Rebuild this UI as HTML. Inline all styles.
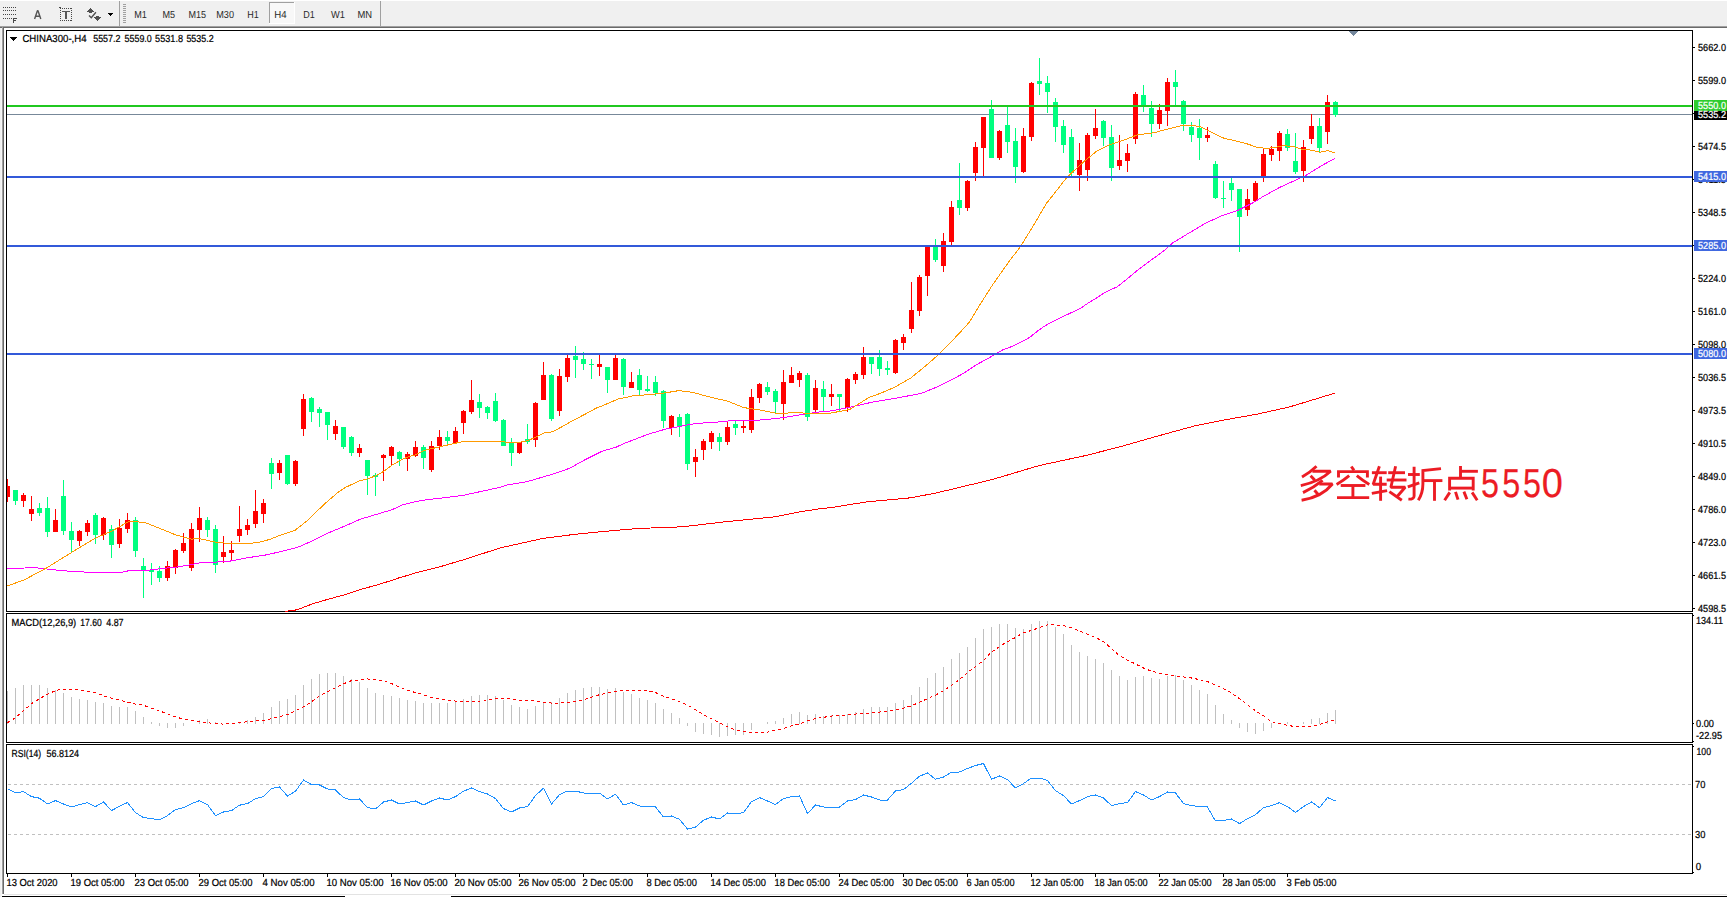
<!DOCTYPE html>
<html><head><meta charset="utf-8"><title>CHINA300 H4</title>
<style>html,body{margin:0;padding:0;background:#fff;overflow:hidden}svg{display:block}text{font-family:"Liberation Sans",sans-serif;white-space:pre;text-rendering:geometricPrecision}.b text{stroke:#000;stroke-width:0.22px}.w text{stroke:#fff;stroke-width:0.22px}</style>
</head><body>
<svg width="1727" height="897" viewBox="0 0 1727 897">
<g shape-rendering="crispEdges">
<rect x="0" y="0" width="1727" height="897" fill="#ffffff"/>
<rect x="0" y="1" width="1727" height="25" fill="#f0f0f0"/>
<rect x="0" y="26" width="1727" height="1" fill="#a0a0a0"/>
<rect x="0" y="27" width="1727" height="1" fill="#696969"/>
<rect x="0" y="28" width="1" height="869" fill="#f0f0f0"/>
<rect x="1" y="28" width="1" height="869" fill="#f6f6f6"/>
<rect x="2" y="27" width="1" height="867" fill="#a0a0a0"/>
<rect x="3" y="27" width="1" height="867" fill="#696969"/>
<rect x="4" y="894" width="1723" height="1" fill="#e3e3e3"/>
<rect x="2" y="896" width="343" height="1" fill="#000000"/>
<rect x="451" y="896" width="1276" height="1" fill="#000000"/>
<rect x="3" y="7" width="1" height="1" fill="#484848"/>
<rect x="5" y="7" width="1" height="1" fill="#484848"/>
<rect x="7" y="7" width="1" height="1" fill="#484848"/>
<rect x="9" y="7" width="1" height="1" fill="#484848"/>
<rect x="11" y="7" width="1" height="1" fill="#484848"/>
<rect x="13" y="7" width="1" height="1" fill="#484848"/>
<rect x="15" y="7" width="1" height="1" fill="#484848"/>
<rect x="3" y="10" width="1" height="1" fill="#484848"/>
<rect x="5" y="10" width="1" height="1" fill="#484848"/>
<rect x="7" y="10" width="1" height="1" fill="#484848"/>
<rect x="9" y="10" width="1" height="1" fill="#484848"/>
<rect x="11" y="10" width="1" height="1" fill="#484848"/>
<rect x="13" y="10" width="1" height="1" fill="#484848"/>
<rect x="15" y="10" width="1" height="1" fill="#484848"/>
<rect x="3" y="14" width="1" height="1" fill="#484848"/>
<rect x="5" y="14" width="1" height="1" fill="#484848"/>
<rect x="7" y="14" width="1" height="1" fill="#484848"/>
<rect x="9" y="14" width="1" height="1" fill="#484848"/>
<rect x="11" y="14" width="1" height="1" fill="#484848"/>
<rect x="13" y="14" width="1" height="1" fill="#484848"/>
<rect x="15" y="14" width="1" height="1" fill="#484848"/>
<rect x="3" y="18" width="1" height="1" fill="#484848"/>
<rect x="5" y="18" width="1" height="1" fill="#484848"/>
<rect x="7" y="18" width="1" height="1" fill="#484848"/>
<rect x="9" y="18" width="1" height="1" fill="#484848"/>
<rect x="11" y="18" width="1" height="1" fill="#484848"/>
<rect x="13" y="18" width="4" height="1" fill="#484848"/>
<rect x="13" y="18" width="1" height="5" fill="#484848"/>
<rect x="13" y="20" width="3" height="1" fill="#484848"/>
<rect x="60" y="8" width="1" height="1" fill="#484848"/>
<rect x="60" y="20" width="1" height="1" fill="#484848"/>
<rect x="62" y="8" width="1" height="1" fill="#484848"/>
<rect x="62" y="20" width="1" height="1" fill="#484848"/>
<rect x="64" y="8" width="1" height="1" fill="#484848"/>
<rect x="64" y="20" width="1" height="1" fill="#484848"/>
<rect x="66" y="8" width="1" height="1" fill="#484848"/>
<rect x="66" y="20" width="1" height="1" fill="#484848"/>
<rect x="68" y="8" width="1" height="1" fill="#484848"/>
<rect x="68" y="20" width="1" height="1" fill="#484848"/>
<rect x="70" y="8" width="1" height="1" fill="#484848"/>
<rect x="70" y="20" width="1" height="1" fill="#484848"/>
<rect x="60" y="8" width="1" height="1" fill="#484848"/>
<rect x="71" y="8" width="1" height="1" fill="#484848"/>
<rect x="60" y="10" width="1" height="1" fill="#484848"/>
<rect x="71" y="10" width="1" height="1" fill="#484848"/>
<rect x="60" y="12" width="1" height="1" fill="#484848"/>
<rect x="71" y="12" width="1" height="1" fill="#484848"/>
<rect x="60" y="14" width="1" height="1" fill="#484848"/>
<rect x="71" y="14" width="1" height="1" fill="#484848"/>
<rect x="60" y="16" width="1" height="1" fill="#484848"/>
<rect x="71" y="16" width="1" height="1" fill="#484848"/>
<rect x="60" y="18" width="1" height="1" fill="#484848"/>
<rect x="71" y="18" width="1" height="1" fill="#484848"/>
<rect x="60" y="20" width="1" height="1" fill="#484848"/>
<rect x="71" y="20" width="1" height="1" fill="#484848"/>
<rect x="59" y="7" width="2" height="1" fill="#484848"/>
<rect x="62" y="11" width="8" height="1" fill="#585858"/>
<rect x="65" y="11" width="2" height="8" fill="#585858"/>
<rect x="108" y="13" width="5" height="1" fill="#000"/>
<rect x="109" y="14" width="3" height="1" fill="#000"/>
<rect x="110" y="15" width="1" height="1" fill="#000"/>
<rect x="119" y="1" width="1" height="25" fill="#a0a0a0"/>
<rect x="123" y="4" width="3" height="1" fill="#a0a0a0"/>
<rect x="123" y="6" width="3" height="1" fill="#a0a0a0"/>
<rect x="123" y="8" width="3" height="1" fill="#a0a0a0"/>
<rect x="123" y="10" width="3" height="1" fill="#a0a0a0"/>
<rect x="123" y="12" width="3" height="1" fill="#a0a0a0"/>
<rect x="123" y="14" width="3" height="1" fill="#a0a0a0"/>
<rect x="123" y="16" width="3" height="1" fill="#a0a0a0"/>
<rect x="123" y="18" width="3" height="1" fill="#a0a0a0"/>
<rect x="123" y="20" width="3" height="1" fill="#a0a0a0"/>
<rect x="123" y="22" width="3" height="1" fill="#a0a0a0"/>
<rect x="380" y="1" width="1" height="25" fill="#a0a0a0"/>
<rect x="269" y="2" width="26" height="22" fill="#f8f8f8"/>
<rect x="269" y="2" width="26" height="1" fill="#a0a0a0"/>
<rect x="269" y="2" width="1" height="22" fill="#a0a0a0"/>
<rect x="294" y="2" width="1" height="22" fill="#ffffff"/>
<rect x="269" y="23" width="26" height="1" fill="#ffffff"/>
</g>
<path d="M34.6 19 L37.4 10.7 H38 L40.8 19 M35.8 16.2 H39.6" fill="none" stroke="#555" stroke-width="1.4" stroke-linejoin="bevel"/>
<g shape-rendering="crispEdges">
<rect x="90" y="8" width="1" height="1" fill="#505050"/>
<rect x="89" y="9" width="3" height="1" fill="#505050"/>
<rect x="88" y="10" width="5" height="1" fill="#505050"/>
<rect x="87" y="11" width="7" height="1" fill="#505050"/>
<rect x="89" y="12" width="3" height="1" fill="#505050"/>
<rect x="96" y="16" width="3" height="1" fill="#505050"/>
<rect x="94" y="17" width="7" height="1" fill="#505050"/>
<rect x="95" y="18" width="5" height="1" fill="#505050"/>
<rect x="96" y="19" width="3" height="1" fill="#505050"/>
<rect x="97" y="20" width="1" height="1" fill="#505050"/>
</g>
<path d="M89 15.4 L91.3 17.7 L95.9 12.2" fill="none" stroke="#505050" stroke-width="1.4"/>
<text x="134.3" y="18" font-size="10.2" fill="#2a2a2a" textLength="12.6" lengthAdjust="spacingAndGlyphs" >M1</text>
<text x="162.5" y="18" font-size="10.2" fill="#2a2a2a" textLength="12.6" lengthAdjust="spacingAndGlyphs" >M5</text>
<text x="188.4" y="18" font-size="10.2" fill="#2a2a2a" textLength="17.6" lengthAdjust="spacingAndGlyphs" >M15</text>
<text x="216.2" y="18" font-size="10.2" fill="#2a2a2a" textLength="17.8" lengthAdjust="spacingAndGlyphs" >M30</text>
<text x="247.2" y="18" font-size="10.2" fill="#2a2a2a" textLength="11.5" lengthAdjust="spacingAndGlyphs" >H1</text>
<text x="274.2" y="18" font-size="10.2" fill="#2a2a2a" textLength="12.3" lengthAdjust="spacingAndGlyphs" >H4</text>
<text x="303.2" y="18" font-size="10.2" fill="#2a2a2a" textLength="11.5" lengthAdjust="spacingAndGlyphs" >D1</text>
<text x="331.0" y="18" font-size="10.2" fill="#2a2a2a" textLength="13.9" lengthAdjust="spacingAndGlyphs" >W1</text>
<text x="357.4" y="18" font-size="10.2" fill="#2a2a2a" textLength="14.6" lengthAdjust="spacingAndGlyphs" >MN</text>
<g shape-rendering="crispEdges">
<rect x="6" y="30" width="1687" height="1" fill="#000"/>
<rect x="6" y="611" width="1687" height="1" fill="#000"/>
<rect x="6" y="30" width="1" height="582" fill="#000"/>
<rect x="1692" y="30" width="1" height="582" fill="#000"/>
<rect x="6" y="613" width="1687" height="1" fill="#000"/>
<rect x="6" y="742" width="1687" height="1" fill="#000"/>
<rect x="6" y="613" width="1" height="130" fill="#000"/>
<rect x="1692" y="613" width="1" height="130" fill="#000"/>
<rect x="6" y="744" width="1687" height="1" fill="#000"/>
<rect x="6" y="873" width="1687" height="1" fill="#000"/>
<rect x="6" y="744" width="1" height="130" fill="#000"/>
<rect x="1692" y="744" width="1" height="130" fill="#000"/>
<rect x="7" y="114" width="1685" height="1" fill="#778899"/>
<rect x="7" y="479" width="1" height="23" fill="#ff0000"/>
<rect x="7" y="486" width="3" height="11" fill="#ff0000"/>
<rect x="15" y="490" width="1" height="15" fill="#00ff7f"/>
<rect x="13" y="490" width="5" height="11" fill="#00ff7f"/>
<rect x="23" y="493" width="1" height="14" fill="#ff0000"/>
<rect x="21" y="495" width="5" height="6" fill="#ff0000"/>
<rect x="31" y="496" width="1" height="25" fill="#ff0000"/>
<rect x="29" y="509" width="5" height="5" fill="#ff0000"/>
<rect x="39" y="503" width="1" height="13" fill="#00ff7f"/>
<rect x="37" y="508" width="5" height="5" fill="#00ff7f"/>
<rect x="47" y="497" width="1" height="40" fill="#00ff7f"/>
<rect x="45" y="508" width="5" height="24" fill="#00ff7f"/>
<rect x="55" y="509" width="1" height="23" fill="#ff0000"/>
<rect x="53" y="520" width="5" height="12" fill="#ff0000"/>
<rect x="63" y="480" width="1" height="55" fill="#00ff7f"/>
<rect x="61" y="496" width="5" height="35" fill="#00ff7f"/>
<rect x="71" y="522" width="1" height="30" fill="#00ff7f"/>
<rect x="69" y="531" width="5" height="9" fill="#00ff7f"/>
<rect x="79" y="530" width="1" height="16" fill="#ff0000"/>
<rect x="77" y="531" width="5" height="10" fill="#ff0000"/>
<rect x="87" y="520" width="1" height="16" fill="#ff0000"/>
<rect x="85" y="523" width="5" height="9" fill="#ff0000"/>
<rect x="95" y="513" width="1" height="31" fill="#00ff7f"/>
<rect x="93" y="515" width="5" height="20" fill="#00ff7f"/>
<rect x="103" y="517" width="1" height="23" fill="#ff0000"/>
<rect x="101" y="518" width="5" height="17" fill="#ff0000"/>
<rect x="111" y="525" width="1" height="33" fill="#00ff7f"/>
<rect x="109" y="529" width="5" height="16" fill="#00ff7f"/>
<rect x="119" y="519" width="1" height="29" fill="#ff0000"/>
<rect x="117" y="528" width="5" height="16" fill="#ff0000"/>
<rect x="127" y="513" width="1" height="20" fill="#ff0000"/>
<rect x="125" y="520" width="5" height="9" fill="#ff0000"/>
<rect x="135" y="517" width="1" height="40" fill="#00ff7f"/>
<rect x="133" y="520" width="5" height="31" fill="#00ff7f"/>
<rect x="143" y="558" width="1" height="40" fill="#00ff7f"/>
<rect x="141" y="566" width="5" height="5" fill="#00ff7f"/>
<rect x="151" y="563" width="1" height="22" fill="#00ff7f"/>
<rect x="149" y="570" width="5" height="2" fill="#00ff7f"/>
<rect x="159" y="566" width="1" height="16" fill="#00ff7f"/>
<rect x="157" y="571" width="5" height="7" fill="#00ff7f"/>
<rect x="167" y="561" width="1" height="20" fill="#ff0000"/>
<rect x="165" y="566" width="5" height="12" fill="#ff0000"/>
<rect x="175" y="549" width="1" height="25" fill="#ff0000"/>
<rect x="173" y="550" width="5" height="18" fill="#ff0000"/>
<rect x="183" y="533" width="1" height="20" fill="#ff0000"/>
<rect x="181" y="543" width="5" height="8" fill="#ff0000"/>
<rect x="191" y="523" width="1" height="48" fill="#ff0000"/>
<rect x="189" y="529" width="5" height="39" fill="#ff0000"/>
<rect x="199" y="507" width="1" height="35" fill="#ff0000"/>
<rect x="197" y="518" width="5" height="12" fill="#ff0000"/>
<rect x="207" y="517" width="1" height="20" fill="#00ff7f"/>
<rect x="205" y="520" width="5" height="10" fill="#00ff7f"/>
<rect x="215" y="525" width="1" height="48" fill="#00ff7f"/>
<rect x="213" y="529" width="5" height="36" fill="#00ff7f"/>
<rect x="223" y="536" width="1" height="27" fill="#ff0000"/>
<rect x="221" y="552" width="5" height="5" fill="#ff0000"/>
<rect x="231" y="541" width="1" height="20" fill="#ff0000"/>
<rect x="229" y="550" width="5" height="3" fill="#ff0000"/>
<rect x="239" y="506" width="1" height="36" fill="#ff0000"/>
<rect x="237" y="529" width="5" height="7" fill="#ff0000"/>
<rect x="247" y="519" width="1" height="16" fill="#ff0000"/>
<rect x="245" y="525" width="5" height="5" fill="#ff0000"/>
<rect x="255" y="490" width="1" height="38" fill="#ff0000"/>
<rect x="253" y="511" width="5" height="13" fill="#ff0000"/>
<rect x="263" y="499" width="1" height="24" fill="#ff0000"/>
<rect x="261" y="503" width="5" height="11" fill="#ff0000"/>
<rect x="271" y="458" width="1" height="31" fill="#00ff7f"/>
<rect x="269" y="463" width="5" height="11" fill="#00ff7f"/>
<rect x="279" y="460" width="1" height="20" fill="#ff0000"/>
<rect x="277" y="463" width="5" height="10" fill="#ff0000"/>
<rect x="287" y="455" width="1" height="30" fill="#00ff7f"/>
<rect x="285" y="455" width="5" height="29" fill="#00ff7f"/>
<rect x="295" y="460" width="1" height="26" fill="#ff0000"/>
<rect x="293" y="461" width="5" height="23" fill="#ff0000"/>
<rect x="303" y="394" width="1" height="42" fill="#ff0000"/>
<rect x="301" y="399" width="5" height="30" fill="#ff0000"/>
<rect x="311" y="397" width="1" height="25" fill="#00ff7f"/>
<rect x="309" y="398" width="5" height="14" fill="#00ff7f"/>
<rect x="319" y="407" width="1" height="20" fill="#00ff7f"/>
<rect x="317" y="409" width="5" height="4" fill="#00ff7f"/>
<rect x="327" y="412" width="1" height="28" fill="#00ff7f"/>
<rect x="325" y="412" width="5" height="13" fill="#00ff7f"/>
<rect x="335" y="420" width="1" height="20" fill="#ff0000"/>
<rect x="333" y="426" width="5" height="8" fill="#ff0000"/>
<rect x="343" y="427" width="1" height="22" fill="#00ff7f"/>
<rect x="341" y="427" width="5" height="20" fill="#00ff7f"/>
<rect x="351" y="436" width="1" height="20" fill="#00ff7f"/>
<rect x="349" y="437" width="5" height="16" fill="#00ff7f"/>
<rect x="359" y="444" width="1" height="13" fill="#ff0000"/>
<rect x="357" y="448" width="5" height="5" fill="#ff0000"/>
<rect x="367" y="460" width="1" height="35" fill="#00ff7f"/>
<rect x="365" y="460" width="5" height="16" fill="#00ff7f"/>
<rect x="375" y="473" width="1" height="23" fill="#00ff7f"/>
<rect x="373" y="475" width="5" height="2" fill="#00ff7f"/>
<rect x="383" y="454" width="1" height="27" fill="#ff0000"/>
<rect x="381" y="455" width="5" height="3" fill="#ff0000"/>
<rect x="391" y="446" width="1" height="19" fill="#ff0000"/>
<rect x="389" y="447" width="5" height="9" fill="#ff0000"/>
<rect x="399" y="451" width="1" height="15" fill="#00ff7f"/>
<rect x="397" y="452" width="5" height="7" fill="#00ff7f"/>
<rect x="407" y="452" width="1" height="19" fill="#ff0000"/>
<rect x="405" y="454" width="5" height="5" fill="#ff0000"/>
<rect x="415" y="441" width="1" height="16" fill="#ff0000"/>
<rect x="413" y="447" width="5" height="9" fill="#ff0000"/>
<rect x="423" y="445" width="1" height="24" fill="#00ff7f"/>
<rect x="421" y="447" width="5" height="11" fill="#00ff7f"/>
<rect x="431" y="441" width="1" height="31" fill="#ff0000"/>
<rect x="429" y="446" width="5" height="24" fill="#ff0000"/>
<rect x="439" y="430" width="1" height="20" fill="#ff0000"/>
<rect x="437" y="437" width="5" height="9" fill="#ff0000"/>
<rect x="447" y="431" width="1" height="13" fill="#00ff7f"/>
<rect x="445" y="437" width="5" height="4" fill="#00ff7f"/>
<rect x="455" y="427" width="1" height="16" fill="#ff0000"/>
<rect x="453" y="431" width="5" height="12" fill="#ff0000"/>
<rect x="463" y="410" width="1" height="24" fill="#ff0000"/>
<rect x="461" y="411" width="5" height="12" fill="#ff0000"/>
<rect x="471" y="380" width="1" height="34" fill="#ff0000"/>
<rect x="469" y="400" width="5" height="12" fill="#ff0000"/>
<rect x="479" y="394" width="1" height="24" fill="#00ff7f"/>
<rect x="477" y="402" width="5" height="6" fill="#00ff7f"/>
<rect x="487" y="406" width="1" height="13" fill="#00ff7f"/>
<rect x="485" y="407" width="5" height="6" fill="#00ff7f"/>
<rect x="495" y="393" width="1" height="29" fill="#00ff7f"/>
<rect x="493" y="401" width="5" height="20" fill="#00ff7f"/>
<rect x="503" y="419" width="1" height="27" fill="#00ff7f"/>
<rect x="501" y="420" width="5" height="26" fill="#00ff7f"/>
<rect x="511" y="438" width="1" height="28" fill="#00ff7f"/>
<rect x="509" y="442" width="5" height="11" fill="#00ff7f"/>
<rect x="519" y="442" width="1" height="12" fill="#ff0000"/>
<rect x="517" y="442" width="5" height="11" fill="#ff0000"/>
<rect x="527" y="424" width="1" height="20" fill="#00ff7f"/>
<rect x="525" y="439" width="5" height="3" fill="#00ff7f"/>
<rect x="535" y="402" width="1" height="45" fill="#ff0000"/>
<rect x="533" y="403" width="5" height="37" fill="#ff0000"/>
<rect x="543" y="362" width="1" height="38" fill="#ff0000"/>
<rect x="541" y="375" width="5" height="25" fill="#ff0000"/>
<rect x="551" y="374" width="1" height="47" fill="#00ff7f"/>
<rect x="549" y="375" width="5" height="44" fill="#00ff7f"/>
<rect x="559" y="369" width="1" height="47" fill="#ff0000"/>
<rect x="557" y="376" width="5" height="35" fill="#ff0000"/>
<rect x="567" y="355" width="1" height="27" fill="#ff0000"/>
<rect x="565" y="358" width="5" height="19" fill="#ff0000"/>
<rect x="575" y="346" width="1" height="32" fill="#00ff7f"/>
<rect x="573" y="356" width="5" height="4" fill="#00ff7f"/>
<rect x="583" y="352" width="1" height="18" fill="#00ff7f"/>
<rect x="581" y="359" width="5" height="5" fill="#00ff7f"/>
<rect x="591" y="359" width="1" height="20" fill="#00ff7f"/>
<rect x="589" y="364" width="5" height="1" fill="#00ff7f"/>
<rect x="599" y="355" width="1" height="21" fill="#ff0000"/>
<rect x="597" y="364" width="5" height="3" fill="#ff0000"/>
<rect x="607" y="367" width="1" height="26" fill="#00ff7f"/>
<rect x="605" y="367" width="5" height="13" fill="#00ff7f"/>
<rect x="615" y="355" width="1" height="25" fill="#ff0000"/>
<rect x="613" y="358" width="5" height="22" fill="#ff0000"/>
<rect x="623" y="358" width="1" height="37" fill="#00ff7f"/>
<rect x="621" y="359" width="5" height="28" fill="#00ff7f"/>
<rect x="631" y="372" width="1" height="16" fill="#ff0000"/>
<rect x="629" y="382" width="5" height="6" fill="#ff0000"/>
<rect x="639" y="369" width="1" height="26" fill="#00ff7f"/>
<rect x="637" y="375" width="5" height="15" fill="#00ff7f"/>
<rect x="647" y="376" width="1" height="16" fill="#00ff7f"/>
<rect x="645" y="389" width="5" height="2" fill="#00ff7f"/>
<rect x="655" y="376" width="1" height="20" fill="#00ff7f"/>
<rect x="653" y="382" width="5" height="11" fill="#00ff7f"/>
<rect x="663" y="390" width="1" height="38" fill="#00ff7f"/>
<rect x="661" y="391" width="5" height="30" fill="#00ff7f"/>
<rect x="671" y="415" width="1" height="20" fill="#ff0000"/>
<rect x="669" y="416" width="5" height="12" fill="#ff0000"/>
<rect x="679" y="414" width="1" height="23" fill="#00ff7f"/>
<rect x="677" y="417" width="5" height="9" fill="#00ff7f"/>
<rect x="687" y="413" width="1" height="57" fill="#00ff7f"/>
<rect x="685" y="414" width="5" height="50" fill="#00ff7f"/>
<rect x="695" y="449" width="1" height="28" fill="#ff0000"/>
<rect x="693" y="457" width="5" height="5" fill="#ff0000"/>
<rect x="703" y="439" width="1" height="21" fill="#ff0000"/>
<rect x="701" y="441" width="5" height="9" fill="#ff0000"/>
<rect x="711" y="431" width="1" height="18" fill="#ff0000"/>
<rect x="709" y="433" width="5" height="9" fill="#ff0000"/>
<rect x="719" y="433" width="1" height="18" fill="#00ff7f"/>
<rect x="717" y="437" width="5" height="5" fill="#00ff7f"/>
<rect x="727" y="421" width="1" height="24" fill="#ff0000"/>
<rect x="725" y="427" width="5" height="15" fill="#ff0000"/>
<rect x="735" y="421" width="1" height="14" fill="#00ff7f"/>
<rect x="733" y="424" width="5" height="4" fill="#00ff7f"/>
<rect x="743" y="421" width="1" height="12" fill="#ff0000"/>
<rect x="741" y="426" width="5" height="2" fill="#ff0000"/>
<rect x="751" y="389" width="1" height="44" fill="#ff0000"/>
<rect x="749" y="397" width="5" height="33" fill="#ff0000"/>
<rect x="759" y="383" width="1" height="20" fill="#ff0000"/>
<rect x="757" y="384" width="5" height="14" fill="#ff0000"/>
<rect x="767" y="382" width="1" height="13" fill="#00ff7f"/>
<rect x="765" y="387" width="5" height="5" fill="#00ff7f"/>
<rect x="775" y="389" width="1" height="25" fill="#00ff7f"/>
<rect x="773" y="391" width="5" height="11" fill="#00ff7f"/>
<rect x="783" y="370" width="1" height="50" fill="#ff0000"/>
<rect x="781" y="382" width="5" height="22" fill="#ff0000"/>
<rect x="791" y="367" width="1" height="16" fill="#ff0000"/>
<rect x="789" y="375" width="5" height="8" fill="#ff0000"/>
<rect x="799" y="371" width="1" height="16" fill="#ff0000"/>
<rect x="797" y="373" width="5" height="7" fill="#ff0000"/>
<rect x="807" y="373" width="1" height="48" fill="#00ff7f"/>
<rect x="805" y="375" width="5" height="42" fill="#00ff7f"/>
<rect x="815" y="380" width="1" height="32" fill="#ff0000"/>
<rect x="813" y="388" width="5" height="22" fill="#ff0000"/>
<rect x="823" y="381" width="1" height="30" fill="#00ff7f"/>
<rect x="821" y="389" width="5" height="8" fill="#00ff7f"/>
<rect x="831" y="384" width="1" height="22" fill="#ff0000"/>
<rect x="829" y="394" width="5" height="3" fill="#ff0000"/>
<rect x="839" y="394" width="1" height="17" fill="#00ff7f"/>
<rect x="837" y="394" width="5" height="3" fill="#00ff7f"/>
<rect x="847" y="378" width="1" height="34" fill="#ff0000"/>
<rect x="845" y="379" width="5" height="29" fill="#ff0000"/>
<rect x="855" y="372" width="1" height="12" fill="#ff0000"/>
<rect x="853" y="374" width="5" height="6" fill="#ff0000"/>
<rect x="863" y="347" width="1" height="32" fill="#ff0000"/>
<rect x="861" y="357" width="5" height="18" fill="#ff0000"/>
<rect x="871" y="357" width="1" height="17" fill="#00ff7f"/>
<rect x="869" y="357" width="5" height="7" fill="#00ff7f"/>
<rect x="879" y="350" width="1" height="26" fill="#00ff7f"/>
<rect x="877" y="357" width="5" height="12" fill="#00ff7f"/>
<rect x="887" y="361" width="1" height="14" fill="#00ff7f"/>
<rect x="885" y="368" width="5" height="2" fill="#00ff7f"/>
<rect x="895" y="339" width="1" height="35" fill="#ff0000"/>
<rect x="893" y="340" width="5" height="33" fill="#ff0000"/>
<rect x="903" y="334" width="1" height="16" fill="#ff0000"/>
<rect x="901" y="337" width="5" height="6" fill="#ff0000"/>
<rect x="911" y="282" width="1" height="51" fill="#ff0000"/>
<rect x="909" y="310" width="5" height="19" fill="#ff0000"/>
<rect x="919" y="275" width="1" height="41" fill="#ff0000"/>
<rect x="917" y="277" width="5" height="34" fill="#ff0000"/>
<rect x="927" y="245" width="1" height="51" fill="#ff0000"/>
<rect x="925" y="245" width="5" height="31" fill="#ff0000"/>
<rect x="935" y="239" width="1" height="23" fill="#00ff7f"/>
<rect x="933" y="246" width="5" height="14" fill="#00ff7f"/>
<rect x="943" y="233" width="1" height="39" fill="#ff0000"/>
<rect x="941" y="241" width="5" height="25" fill="#ff0000"/>
<rect x="951" y="201" width="1" height="44" fill="#ff0000"/>
<rect x="949" y="207" width="5" height="35" fill="#ff0000"/>
<rect x="959" y="163" width="1" height="52" fill="#00ff7f"/>
<rect x="957" y="200" width="5" height="8" fill="#00ff7f"/>
<rect x="967" y="180" width="1" height="31" fill="#ff0000"/>
<rect x="965" y="181" width="5" height="27" fill="#ff0000"/>
<rect x="975" y="142" width="1" height="39" fill="#ff0000"/>
<rect x="973" y="147" width="5" height="26" fill="#ff0000"/>
<rect x="983" y="117" width="1" height="59" fill="#ff0000"/>
<rect x="981" y="117" width="5" height="31" fill="#ff0000"/>
<rect x="991" y="100" width="1" height="58" fill="#00ff7f"/>
<rect x="989" y="109" width="5" height="49" fill="#00ff7f"/>
<rect x="999" y="130" width="1" height="30" fill="#ff0000"/>
<rect x="997" y="131" width="5" height="27" fill="#ff0000"/>
<rect x="1007" y="107" width="1" height="46" fill="#00ff7f"/>
<rect x="1005" y="125" width="5" height="17" fill="#00ff7f"/>
<rect x="1015" y="128" width="1" height="55" fill="#00ff7f"/>
<rect x="1013" y="141" width="5" height="26" fill="#00ff7f"/>
<rect x="1023" y="128" width="1" height="45" fill="#ff0000"/>
<rect x="1021" y="136" width="5" height="36" fill="#ff0000"/>
<rect x="1031" y="82" width="1" height="59" fill="#ff0000"/>
<rect x="1029" y="83" width="5" height="54" fill="#ff0000"/>
<rect x="1039" y="58" width="1" height="37" fill="#00ff7f"/>
<rect x="1037" y="81" width="5" height="3" fill="#00ff7f"/>
<rect x="1047" y="76" width="1" height="37" fill="#00ff7f"/>
<rect x="1045" y="83" width="5" height="9" fill="#00ff7f"/>
<rect x="1055" y="98" width="1" height="44" fill="#00ff7f"/>
<rect x="1053" y="102" width="5" height="25" fill="#00ff7f"/>
<rect x="1063" y="120" width="1" height="33" fill="#00ff7f"/>
<rect x="1061" y="126" width="5" height="19" fill="#00ff7f"/>
<rect x="1071" y="129" width="1" height="47" fill="#00ff7f"/>
<rect x="1069" y="137" width="5" height="36" fill="#00ff7f"/>
<rect x="1079" y="143" width="1" height="48" fill="#ff0000"/>
<rect x="1077" y="160" width="5" height="15" fill="#ff0000"/>
<rect x="1087" y="133" width="1" height="48" fill="#ff0000"/>
<rect x="1085" y="135" width="5" height="35" fill="#ff0000"/>
<rect x="1095" y="109" width="1" height="30" fill="#ff0000"/>
<rect x="1093" y="128" width="5" height="8" fill="#ff0000"/>
<rect x="1103" y="120" width="1" height="26" fill="#00ff7f"/>
<rect x="1101" y="121" width="5" height="17" fill="#00ff7f"/>
<rect x="1111" y="125" width="1" height="56" fill="#00ff7f"/>
<rect x="1109" y="137" width="5" height="31" fill="#00ff7f"/>
<rect x="1119" y="135" width="1" height="35" fill="#ff0000"/>
<rect x="1117" y="160" width="5" height="6" fill="#ff0000"/>
<rect x="1127" y="144" width="1" height="28" fill="#ff0000"/>
<rect x="1125" y="153" width="5" height="8" fill="#ff0000"/>
<rect x="1135" y="92" width="1" height="52" fill="#ff0000"/>
<rect x="1133" y="94" width="5" height="45" fill="#ff0000"/>
<rect x="1143" y="85" width="1" height="27" fill="#00ff7f"/>
<rect x="1141" y="95" width="5" height="12" fill="#00ff7f"/>
<rect x="1151" y="101" width="1" height="36" fill="#00ff7f"/>
<rect x="1149" y="108" width="5" height="16" fill="#00ff7f"/>
<rect x="1159" y="104" width="1" height="25" fill="#ff0000"/>
<rect x="1157" y="110" width="5" height="14" fill="#ff0000"/>
<rect x="1167" y="78" width="1" height="48" fill="#ff0000"/>
<rect x="1165" y="82" width="5" height="29" fill="#ff0000"/>
<rect x="1175" y="70" width="1" height="36" fill="#00ff7f"/>
<rect x="1173" y="82" width="5" height="5" fill="#00ff7f"/>
<rect x="1183" y="100" width="1" height="31" fill="#00ff7f"/>
<rect x="1181" y="101" width="5" height="23" fill="#00ff7f"/>
<rect x="1191" y="122" width="1" height="20" fill="#00ff7f"/>
<rect x="1189" y="127" width="5" height="8" fill="#00ff7f"/>
<rect x="1199" y="119" width="1" height="41" fill="#00ff7f"/>
<rect x="1197" y="128" width="5" height="10" fill="#00ff7f"/>
<rect x="1207" y="127" width="1" height="15" fill="#ff0000"/>
<rect x="1205" y="135" width="5" height="3" fill="#ff0000"/>
<rect x="1215" y="161" width="1" height="38" fill="#00ff7f"/>
<rect x="1213" y="164" width="5" height="34" fill="#00ff7f"/>
<rect x="1223" y="181" width="1" height="27" fill="#00ff7f"/>
<rect x="1221" y="198" width="5" height="1" fill="#00ff7f"/>
<rect x="1231" y="178" width="1" height="23" fill="#00ff7f"/>
<rect x="1229" y="183" width="5" height="7" fill="#00ff7f"/>
<rect x="1239" y="189" width="1" height="63" fill="#00ff7f"/>
<rect x="1237" y="189" width="5" height="28" fill="#00ff7f"/>
<rect x="1247" y="189" width="1" height="27" fill="#ff0000"/>
<rect x="1245" y="199" width="5" height="11" fill="#ff0000"/>
<rect x="1255" y="181" width="1" height="20" fill="#ff0000"/>
<rect x="1253" y="183" width="5" height="18" fill="#ff0000"/>
<rect x="1263" y="149" width="1" height="33" fill="#ff0000"/>
<rect x="1261" y="154" width="5" height="23" fill="#ff0000"/>
<rect x="1271" y="146" width="1" height="15" fill="#ff0000"/>
<rect x="1269" y="149" width="5" height="6" fill="#ff0000"/>
<rect x="1279" y="131" width="1" height="30" fill="#ff0000"/>
<rect x="1277" y="133" width="5" height="18" fill="#ff0000"/>
<rect x="1287" y="129" width="1" height="22" fill="#00ff7f"/>
<rect x="1285" y="134" width="5" height="14" fill="#00ff7f"/>
<rect x="1295" y="133" width="1" height="41" fill="#00ff7f"/>
<rect x="1293" y="161" width="5" height="11" fill="#00ff7f"/>
<rect x="1303" y="140" width="1" height="42" fill="#ff0000"/>
<rect x="1301" y="147" width="5" height="24" fill="#ff0000"/>
<rect x="1311" y="114" width="1" height="30" fill="#ff0000"/>
<rect x="1309" y="126" width="5" height="13" fill="#ff0000"/>
<rect x="1319" y="118" width="1" height="34" fill="#00ff7f"/>
<rect x="1317" y="126" width="5" height="22" fill="#00ff7f"/>
<rect x="1327" y="95" width="1" height="49" fill="#ff0000"/>
<rect x="1325" y="102" width="5" height="30" fill="#ff0000"/>
<rect x="1335" y="101" width="1" height="16" fill="#00ff7f"/>
<rect x="1333" y="102" width="5" height="13" fill="#00ff7f"/>
<rect x="7" y="691" width="1" height="33" fill="#c0c0c0"/>
<rect x="15" y="688" width="1" height="36" fill="#c0c0c0"/>
<rect x="23" y="685" width="1" height="39" fill="#c0c0c0"/>
<rect x="31" y="685" width="1" height="39" fill="#c0c0c0"/>
<rect x="39" y="685" width="1" height="39" fill="#c0c0c0"/>
<rect x="47" y="688" width="1" height="36" fill="#c0c0c0"/>
<rect x="55" y="690" width="1" height="34" fill="#c0c0c0"/>
<rect x="63" y="693" width="1" height="31" fill="#c0c0c0"/>
<rect x="71" y="697" width="1" height="27" fill="#c0c0c0"/>
<rect x="79" y="699" width="1" height="25" fill="#c0c0c0"/>
<rect x="87" y="700" width="1" height="24" fill="#c0c0c0"/>
<rect x="95" y="702" width="1" height="22" fill="#c0c0c0"/>
<rect x="103" y="703" width="1" height="21" fill="#c0c0c0"/>
<rect x="111" y="706" width="1" height="18" fill="#c0c0c0"/>
<rect x="119" y="707" width="1" height="17" fill="#c0c0c0"/>
<rect x="127" y="707" width="1" height="17" fill="#c0c0c0"/>
<rect x="135" y="711" width="1" height="13" fill="#c0c0c0"/>
<rect x="143" y="717" width="1" height="7" fill="#c0c0c0"/>
<rect x="151" y="722" width="1" height="2" fill="#c0c0c0"/>
<rect x="159" y="723" width="1" height="3" fill="#c0c0c0"/>
<rect x="167" y="723" width="1" height="5" fill="#c0c0c0"/>
<rect x="175" y="723" width="1" height="5" fill="#c0c0c0"/>
<rect x="183" y="723" width="1" height="3" fill="#c0c0c0"/>
<rect x="199" y="720" width="1" height="4" fill="#c0c0c0"/>
<rect x="207" y="719" width="1" height="5" fill="#c0c0c0"/>
<rect x="215" y="722" width="1" height="2" fill="#c0c0c0"/>
<rect x="239" y="722" width="1" height="2" fill="#c0c0c0"/>
<rect x="247" y="720" width="1" height="4" fill="#c0c0c0"/>
<rect x="255" y="717" width="1" height="7" fill="#c0c0c0"/>
<rect x="263" y="713" width="1" height="11" fill="#c0c0c0"/>
<rect x="271" y="707" width="1" height="17" fill="#c0c0c0"/>
<rect x="279" y="701" width="1" height="23" fill="#c0c0c0"/>
<rect x="287" y="699" width="1" height="25" fill="#c0c0c0"/>
<rect x="295" y="695" width="1" height="29" fill="#c0c0c0"/>
<rect x="303" y="685" width="1" height="39" fill="#c0c0c0"/>
<rect x="311" y="679" width="1" height="45" fill="#c0c0c0"/>
<rect x="319" y="674" width="1" height="50" fill="#c0c0c0"/>
<rect x="327" y="673" width="1" height="51" fill="#c0c0c0"/>
<rect x="335" y="673" width="1" height="51" fill="#c0c0c0"/>
<rect x="343" y="676" width="1" height="48" fill="#c0c0c0"/>
<rect x="351" y="679" width="1" height="45" fill="#c0c0c0"/>
<rect x="359" y="682" width="1" height="42" fill="#c0c0c0"/>
<rect x="367" y="688" width="1" height="36" fill="#c0c0c0"/>
<rect x="375" y="693" width="1" height="31" fill="#c0c0c0"/>
<rect x="383" y="695" width="1" height="29" fill="#c0c0c0"/>
<rect x="391" y="696" width="1" height="28" fill="#c0c0c0"/>
<rect x="399" y="698" width="1" height="26" fill="#c0c0c0"/>
<rect x="407" y="700" width="1" height="24" fill="#c0c0c0"/>
<rect x="415" y="701" width="1" height="23" fill="#c0c0c0"/>
<rect x="423" y="703" width="1" height="21" fill="#c0c0c0"/>
<rect x="431" y="703" width="1" height="21" fill="#c0c0c0"/>
<rect x="439" y="703" width="1" height="21" fill="#c0c0c0"/>
<rect x="447" y="703" width="1" height="21" fill="#c0c0c0"/>
<rect x="455" y="702" width="1" height="22" fill="#c0c0c0"/>
<rect x="463" y="699" width="1" height="25" fill="#c0c0c0"/>
<rect x="471" y="696" width="1" height="28" fill="#c0c0c0"/>
<rect x="479" y="695" width="1" height="29" fill="#c0c0c0"/>
<rect x="487" y="695" width="1" height="29" fill="#c0c0c0"/>
<rect x="495" y="696" width="1" height="28" fill="#c0c0c0"/>
<rect x="503" y="700" width="1" height="24" fill="#c0c0c0"/>
<rect x="511" y="705" width="1" height="19" fill="#c0c0c0"/>
<rect x="519" y="707" width="1" height="17" fill="#c0c0c0"/>
<rect x="527" y="709" width="1" height="15" fill="#c0c0c0"/>
<rect x="535" y="706" width="1" height="18" fill="#c0c0c0"/>
<rect x="543" y="702" width="1" height="22" fill="#c0c0c0"/>
<rect x="551" y="702" width="1" height="22" fill="#c0c0c0"/>
<rect x="559" y="698" width="1" height="26" fill="#c0c0c0"/>
<rect x="567" y="693" width="1" height="31" fill="#c0c0c0"/>
<rect x="575" y="690" width="1" height="34" fill="#c0c0c0"/>
<rect x="583" y="688" width="1" height="36" fill="#c0c0c0"/>
<rect x="591" y="687" width="1" height="37" fill="#c0c0c0"/>
<rect x="599" y="687" width="1" height="37" fill="#c0c0c0"/>
<rect x="607" y="689" width="1" height="35" fill="#c0c0c0"/>
<rect x="615" y="688" width="1" height="36" fill="#c0c0c0"/>
<rect x="623" y="692" width="1" height="32" fill="#c0c0c0"/>
<rect x="631" y="694" width="1" height="30" fill="#c0c0c0"/>
<rect x="639" y="698" width="1" height="26" fill="#c0c0c0"/>
<rect x="647" y="700" width="1" height="24" fill="#c0c0c0"/>
<rect x="655" y="703" width="1" height="21" fill="#c0c0c0"/>
<rect x="663" y="709" width="1" height="15" fill="#c0c0c0"/>
<rect x="671" y="713" width="1" height="11" fill="#c0c0c0"/>
<rect x="679" y="718" width="1" height="6" fill="#c0c0c0"/>
<rect x="687" y="723" width="1" height="3" fill="#c0c0c0"/>
<rect x="695" y="723" width="1" height="9" fill="#c0c0c0"/>
<rect x="703" y="723" width="1" height="11" fill="#c0c0c0"/>
<rect x="711" y="723" width="1" height="12" fill="#c0c0c0"/>
<rect x="719" y="723" width="1" height="14" fill="#c0c0c0"/>
<rect x="727" y="723" width="1" height="13" fill="#c0c0c0"/>
<rect x="735" y="723" width="1" height="12" fill="#c0c0c0"/>
<rect x="743" y="723" width="1" height="12" fill="#c0c0c0"/>
<rect x="751" y="723" width="1" height="7" fill="#c0c0c0"/>
<rect x="767" y="722" width="1" height="2" fill="#c0c0c0"/>
<rect x="775" y="721" width="1" height="3" fill="#c0c0c0"/>
<rect x="783" y="718" width="1" height="6" fill="#c0c0c0"/>
<rect x="791" y="714" width="1" height="10" fill="#c0c0c0"/>
<rect x="799" y="712" width="1" height="12" fill="#c0c0c0"/>
<rect x="807" y="715" width="1" height="9" fill="#c0c0c0"/>
<rect x="815" y="714" width="1" height="10" fill="#c0c0c0"/>
<rect x="823" y="716" width="1" height="8" fill="#c0c0c0"/>
<rect x="831" y="715" width="1" height="9" fill="#c0c0c0"/>
<rect x="839" y="715" width="1" height="9" fill="#c0c0c0"/>
<rect x="847" y="714" width="1" height="10" fill="#c0c0c0"/>
<rect x="855" y="712" width="1" height="12" fill="#c0c0c0"/>
<rect x="863" y="709" width="1" height="15" fill="#c0c0c0"/>
<rect x="871" y="707" width="1" height="17" fill="#c0c0c0"/>
<rect x="879" y="707" width="1" height="17" fill="#c0c0c0"/>
<rect x="887" y="707" width="1" height="17" fill="#c0c0c0"/>
<rect x="895" y="703" width="1" height="21" fill="#c0c0c0"/>
<rect x="903" y="700" width="1" height="24" fill="#c0c0c0"/>
<rect x="911" y="695" width="1" height="29" fill="#c0c0c0"/>
<rect x="919" y="687" width="1" height="37" fill="#c0c0c0"/>
<rect x="927" y="678" width="1" height="46" fill="#c0c0c0"/>
<rect x="935" y="673" width="1" height="51" fill="#c0c0c0"/>
<rect x="943" y="667" width="1" height="57" fill="#c0c0c0"/>
<rect x="951" y="659" width="1" height="65" fill="#c0c0c0"/>
<rect x="959" y="653" width="1" height="71" fill="#c0c0c0"/>
<rect x="967" y="647" width="1" height="77" fill="#c0c0c0"/>
<rect x="975" y="638" width="1" height="86" fill="#c0c0c0"/>
<rect x="983" y="629" width="1" height="95" fill="#c0c0c0"/>
<rect x="991" y="627" width="1" height="97" fill="#c0c0c0"/>
<rect x="999" y="624" width="1" height="100" fill="#c0c0c0"/>
<rect x="1007" y="624" width="1" height="100" fill="#c0c0c0"/>
<rect x="1015" y="628" width="1" height="96" fill="#c0c0c0"/>
<rect x="1023" y="629" width="1" height="95" fill="#c0c0c0"/>
<rect x="1031" y="624" width="1" height="100" fill="#c0c0c0"/>
<rect x="1039" y="621" width="1" height="103" fill="#c0c0c0"/>
<rect x="1047" y="621" width="1" height="103" fill="#c0c0c0"/>
<rect x="1055" y="627" width="1" height="97" fill="#c0c0c0"/>
<rect x="1063" y="634" width="1" height="90" fill="#c0c0c0"/>
<rect x="1071" y="645" width="1" height="79" fill="#c0c0c0"/>
<rect x="1079" y="652" width="1" height="72" fill="#c0c0c0"/>
<rect x="1087" y="656" width="1" height="68" fill="#c0c0c0"/>
<rect x="1095" y="659" width="1" height="65" fill="#c0c0c0"/>
<rect x="1103" y="663" width="1" height="61" fill="#c0c0c0"/>
<rect x="1111" y="670" width="1" height="54" fill="#c0c0c0"/>
<rect x="1119" y="676" width="1" height="48" fill="#c0c0c0"/>
<rect x="1127" y="680" width="1" height="44" fill="#c0c0c0"/>
<rect x="1135" y="677" width="1" height="47" fill="#c0c0c0"/>
<rect x="1143" y="676" width="1" height="48" fill="#c0c0c0"/>
<rect x="1151" y="678" width="1" height="46" fill="#c0c0c0"/>
<rect x="1159" y="679" width="1" height="45" fill="#c0c0c0"/>
<rect x="1167" y="676" width="1" height="48" fill="#c0c0c0"/>
<rect x="1175" y="675" width="1" height="49" fill="#c0c0c0"/>
<rect x="1183" y="680" width="1" height="44" fill="#c0c0c0"/>
<rect x="1191" y="685" width="1" height="39" fill="#c0c0c0"/>
<rect x="1199" y="690" width="1" height="34" fill="#c0c0c0"/>
<rect x="1207" y="694" width="1" height="30" fill="#c0c0c0"/>
<rect x="1215" y="705" width="1" height="19" fill="#c0c0c0"/>
<rect x="1223" y="714" width="1" height="10" fill="#c0c0c0"/>
<rect x="1231" y="720" width="1" height="4" fill="#c0c0c0"/>
<rect x="1239" y="723" width="1" height="5" fill="#c0c0c0"/>
<rect x="1247" y="723" width="1" height="9" fill="#c0c0c0"/>
<rect x="1255" y="723" width="1" height="11" fill="#c0c0c0"/>
<rect x="1263" y="723" width="1" height="8" fill="#c0c0c0"/>
<rect x="1271" y="723" width="1" height="5" fill="#c0c0c0"/>
<rect x="1287" y="722" width="1" height="2" fill="#c0c0c0"/>
<rect x="1303" y="722" width="1" height="2" fill="#c0c0c0"/>
<rect x="1311" y="719" width="1" height="5" fill="#c0c0c0"/>
<rect x="1319" y="718" width="1" height="6" fill="#c0c0c0"/>
<rect x="1327" y="713" width="1" height="11" fill="#c0c0c0"/>
<rect x="1335" y="710" width="1" height="14" fill="#c0c0c0"/>
</g>
<g shape-rendering="crispEdges" stroke="#c0c0c0" stroke-width="1" stroke-dasharray="3 3">
<line x1="8" y1="784.5" x2="1692" y2="784.5"/><line x1="8" y1="834.5" x2="1692" y2="834.5"/>
</g>
<g shape-rendering="crispEdges">
<polyline points="285.0,611.5 297.0,609.8 313.0,603.7 329.0,599.0 345.5,594.5 361.7,589.1 377.8,584.8 394.0,579.6 400.0,577.5 410.0,574.8 416.0,572.7 437.5,567.5 465.0,559.3 500.0,548.0 542.5,538.5 575.0,534.3 600.0,531.8 637.5,528.5 682.5,526.8 725.0,521.8 775.0,516.8 800.0,511.8 820.0,508.7 832.0,507.5 867.0,501.8 910.7,497.8 935.7,493.1 992.0,479.6 1039.0,465.6 1085.8,455.5 1120.0,446.8 1164.0,434.3 1195.0,425.8 1226.5,419.6 1257.8,414.0 1289.0,407.1 1320.0,397.7 1335.0,393.0" fill="none" stroke="#ff0000" stroke-width="1" stroke-linejoin="round" />
<polyline points="7.0,568.5 35.6,567.7 61.0,570.6 77.6,571.7 97.0,572.7 119.6,572.7 128.0,570.9 145.5,570.6 161.7,568.5 177.8,566.9 194.0,564.1 203.7,562.0 216.0,562.1 232.0,560.9 248.5,557.6 264.7,555.2 280.8,551.6 297.0,547.6 313.0,540.6 329.0,532.6 345.5,525.8 360.0,519.3 377.8,514.0 392.4,509.6 402.0,504.9 416.0,501.5 425.0,500.0 462.5,495.5 500.0,487.3 507.4,484.9 527.6,481.5 545.4,476.3 560.0,471.8 569.7,468.2 585.9,459.3 602.0,451.3 616.0,447.2 624.0,443.5 632.0,440.4 648.0,434.3 664.5,429.4 680.7,426.2 696.8,423.3 713.0,422.5 729.0,420.9 753.4,420.5 769.6,419.2 785.8,417.3 801.9,414.5 818.0,412.1 832.0,410.8 848.0,407.7 872.5,402.1 896.8,398.0 921.0,393.5 937.0,387.0 961.4,374.6 977.6,364.1 993.8,355.2 1002.7,349.9 1013.4,345.9 1025.0,340.1 1030.3,336.9 1037.5,331.1 1043.7,326.7 1048.2,324.0 1062.4,316.9 1080.3,308.4 1088.3,303.0 1096.3,298.1 1104.3,292.8 1117.7,286.5 1124.8,280.8 1137.3,270.5 1149.0,261.7 1165.0,249.9 1173.0,242.7 1189.0,233.0 1205.5,223.3 1221.7,215.7 1238.0,210.3 1254.0,202.2 1263.5,196.3 1279.6,187.4 1295.8,180.1 1305.5,175.6 1321.7,165.6 1335.0,158.3" fill="none" stroke="#ff00ff" stroke-width="1" stroke-linejoin="round" />
<polyline points="7.0,586.0 24.0,580.0 47.0,567.7 71.0,552.8 95.0,538.3 112.0,531.0 128.0,521.8 144.0,522.1 160.0,528.5 176.0,535.0 191.0,539.1 200.0,538.7 214.5,541.9 231.0,543.9 242.0,543.9 257.0,542.7 269.5,539.5 281.0,535.0 295.0,530.3 307.0,520.9 324.5,504.0 339.0,491.5 345.5,487.4 360.0,480.6 368.0,478.8 376.0,475.6 384.0,471.2 392.0,465.2 400.5,460.2 408.6,456.6 416.0,454.7 424.0,450.5 440.0,446.7 461.0,442.0 476.0,441.1 498.5,441.1 505.0,442.0 521.0,442.0 527.6,440.7 537.0,436.7 544.0,433.0 552.0,431.9 560.0,427.8 570.0,422.1 586.0,413.7 595.6,408.4 605.0,404.7 618.0,399.0 624.0,397.9 632.0,396.0 648.0,394.7 664.5,393.0 679.0,390.6 692.0,392.2 710.0,397.1 727.6,401.1 743.7,407.6 760.0,410.0 776.0,413.3 784.0,413.7 792.0,412.4 808.0,413.3 826.0,413.7 832.0,412.8 840.0,411.4 850.0,409.3 856.0,405.6 869.0,397.5 882.0,392.7 895.0,387.0 911.0,377.8 924.0,367.3 937.0,356.0 948.5,344.7 961.4,330.9 969.5,322.0 979.4,305.5 993.0,284.2 1009.0,261.6 1020.7,246.2 1033.6,225.2 1046.5,203.3 1058.0,188.8 1065.0,179.7 1073.0,171.6 1084.5,161.1 1097.4,150.6 1110.4,144.4 1121.7,140.9 1138.0,134.7 1154.0,132.8 1165.0,129.6 1171.0,128.4 1182.6,125.2 1192.0,125.2 1202.0,127.3 1213.4,133.3 1224.7,138.6 1236.0,140.9 1247.0,143.8 1257.0,147.3 1265.0,148.3 1273.0,147.8 1283.0,145.9 1292.6,146.2 1302.0,149.4 1312.0,150.2 1320.0,152.2 1328.0,150.7 1335.0,153.1" fill="none" stroke="#ff9a00" stroke-width="1" stroke-linejoin="round" />
<polyline points="7.5,722.7 15.5,717.7 23.5,710.7 31.5,703.7 39.5,698.7 47.5,694.3 55.5,690.6 63.5,689.0 71.5,689.0 79.5,690.0 87.5,691.2 95.5,692.6 103.5,695.7 111.5,698.1 119.5,700.1 127.5,702.1 135.5,704.1 143.5,705.3 151.5,708.1 159.5,710.7 167.5,714.3 175.5,716.7 183.5,719.3 191.5,720.3 199.5,721.7 207.5,722.7 215.5,723.7 223.5,724.1 231.5,723.7 239.5,722.7 247.5,721.7 255.5,720.7 263.5,720.3 271.5,718.7 279.5,716.7 287.5,714.7 295.5,710.7 303.5,706.7 311.5,701.7 319.5,695.7 327.5,691.6 335.5,687.6 343.5,683.8 351.5,680.6 359.5,680.0 367.5,679.0 375.5,680.0 383.5,681.0 391.5,683.6 399.5,687.0 407.5,690.2 415.5,692.6 423.5,694.7 431.5,697.7 439.5,699.1 447.5,700.1 455.5,701.1 463.5,701.1 471.5,701.1 479.5,701.1 487.5,699.7 495.5,698.7 503.5,698.7 511.5,699.1 519.5,700.1 527.5,700.1 535.5,701.1 543.5,702.1 551.5,703.1 559.5,703.1 567.5,702.7 575.5,701.1 583.5,699.7 591.5,697.1 599.5,694.7 607.5,693.0 615.5,691.6 623.5,690.0 631.5,690.0 639.5,690.2 647.5,691.0 655.5,692.6 663.5,696.1 671.5,698.7 679.5,701.7 687.5,705.1 695.5,709.7 703.5,714.7 711.5,718.7 719.5,722.7 727.5,726.7 735.5,730.3 743.5,731.3 751.5,732.7 759.5,732.7 767.5,732.1 775.5,730.3 783.5,728.7 791.5,725.7 799.5,724.1 807.5,720.7 815.5,718.7 823.5,717.3 831.5,716.1 839.5,715.3 847.5,715.1 855.5,714.1 863.5,713.1 871.5,713.1 879.5,712.1 887.5,711.1 895.5,709.7 903.5,708.1 911.5,705.7 919.5,702.3 927.5,698.7 935.5,695.1 943.5,690.6 951.5,685.6 959.5,679.6 967.5,672.6 975.5,666.6 983.5,660.6 991.5,652.0 999.5,646.6 1007.5,641.6 1015.5,637.5 1023.5,632.5 1031.5,630.5 1039.5,627.5 1047.5,624.9 1055.5,624.9 1063.5,625.5 1071.5,627.9 1079.5,631.1 1087.5,634.1 1095.5,637.5 1103.5,641.6 1111.5,648.6 1119.5,655.6 1127.5,660.2 1135.5,664.0 1143.5,668.0 1151.5,671.2 1159.5,673.2 1167.5,675.0 1175.5,676.2 1183.5,677.0 1191.5,678.0 1199.5,679.6 1207.5,681.6 1215.5,685.0 1223.5,688.6 1231.5,693.0 1239.5,698.7 1247.5,704.7 1255.5,710.7 1263.5,715.7 1271.5,721.7 1279.5,723.7 1287.5,725.3 1295.5,726.7 1303.5,726.7 1311.5,726.1 1319.5,724.7 1327.5,721.7 1335.5,719.7" fill="none" stroke="#ff0000" stroke-width="1" stroke-linejoin="round" stroke-dasharray="3 3"/>
<polyline points="7.5,788.6 15.5,793.0 23.5,791.6 31.5,796.6 39.5,798.2 47.5,804.0 55.5,800.6 63.5,804.0 71.5,807.0 79.5,804.6 87.5,802.6 95.5,806.6 103.5,802.0 111.5,810.6 119.5,806.2 127.5,802.6 135.5,812.6 143.5,817.6 151.5,818.6 159.5,820.0 167.5,815.6 175.5,809.6 183.5,807.6 191.5,803.6 199.5,800.6 207.5,804.6 215.5,815.6 223.5,812.0 231.5,810.6 239.5,805.2 247.5,803.6 255.5,798.6 263.5,796.6 271.5,788.6 279.5,787.0 287.5,796.0 295.5,791.2 303.5,780.0 311.5,784.6 319.5,785.0 327.5,789.0 335.5,790.0 343.5,797.6 351.5,800.0 359.5,799.0 367.5,807.6 375.5,809.0 383.5,802.0 391.5,800.0 399.5,804.0 407.5,802.6 415.5,801.0 423.5,805.0 431.5,801.0 439.5,798.0 447.5,800.0 455.5,796.6 463.5,791.2 471.5,788.0 479.5,791.6 487.5,794.0 495.5,798.6 503.5,808.6 511.5,812.0 519.5,808.0 527.5,806.6 535.5,795.6 543.5,788.2 551.5,804.0 559.5,794.6 567.5,791.0 575.5,791.0 583.5,793.0 591.5,793.0 599.5,793.0 607.5,799.0 615.5,794.2 623.5,805.0 631.5,802.6 639.5,806.0 647.5,806.0 655.5,807.0 663.5,817.0 671.5,816.0 679.5,819.3 687.5,829.1 695.5,827.1 703.5,820.2 711.5,817.0 719.5,819.0 727.5,813.0 735.5,814.0 743.5,812.6 751.5,801.6 759.5,797.6 767.5,801.0 775.5,804.6 783.5,798.6 791.5,796.6 799.5,796.0 807.5,813.6 815.5,805.0 823.5,807.0 831.5,807.0 839.5,807.0 847.5,801.0 855.5,799.6 863.5,795.0 871.5,797.0 879.5,800.0 887.5,800.0 895.5,791.0 903.5,789.6 911.5,783.2 919.5,776.2 927.5,773.0 935.5,779.2 943.5,777.0 951.5,772.2 959.5,772.0 967.5,768.5 975.5,765.5 983.5,763.5 991.5,779.2 999.5,776.0 1007.5,779.6 1015.5,788.0 1023.5,783.6 1031.5,778.0 1039.5,778.0 1047.5,780.6 1055.5,790.6 1063.5,795.6 1071.5,804.0 1079.5,800.6 1087.5,796.6 1095.5,795.0 1103.5,798.0 1111.5,805.6 1119.5,803.6 1127.5,802.6 1135.5,791.6 1143.5,795.0 1151.5,800.0 1159.5,796.6 1167.5,792.0 1175.5,793.0 1183.5,803.6 1191.5,805.6 1199.5,806.6 1207.5,807.0 1215.5,821.0 1223.5,820.6 1231.5,819.0 1239.5,823.6 1247.5,818.6 1255.5,814.6 1263.5,807.6 1271.5,805.6 1279.5,802.6 1287.5,806.6 1295.5,812.6 1303.5,806.6 1311.5,802.0 1319.5,807.6 1327.5,797.6 1335.5,801.0" fill="none" stroke="#1e90ff" stroke-width="1" stroke-linejoin="round" />
</g>
<g shape-rendering="crispEdges">
<rect x="7" y="105" width="1685" height="2" fill="#20c820"/>
<rect x="7" y="176" width="1685" height="2" fill="#3359d9"/>
<rect x="7" y="245" width="1685" height="2" fill="#3359d9"/>
<rect x="7" y="353" width="1685" height="2" fill="#3359d9"/>
<rect x="1349" y="31" width="9" height="1" fill="#74879c"/>
<rect x="1350" y="32" width="7" height="1" fill="#74879c"/>
<rect x="1351" y="33" width="5" height="1" fill="#74879c"/>
<rect x="1352" y="34" width="3" height="1" fill="#74879c"/>
<rect x="1353" y="35" width="1" height="1" fill="#74879c"/>
<rect x="10" y="37" width="7" height="1" fill="#000"/>
<rect x="11" y="38" width="5" height="1" fill="#000"/>
<rect x="12" y="39" width="3" height="1" fill="#000"/>
<rect x="13" y="40" width="1" height="1" fill="#000"/>
<rect x="1693" y="47" width="2" height="1" fill="#000"/>
<rect x="1693" y="80" width="2" height="1" fill="#000"/>
<rect x="1693" y="113" width="2" height="1" fill="#000"/>
<rect x="1693" y="146" width="2" height="1" fill="#000"/>
<rect x="1693" y="179" width="2" height="1" fill="#000"/>
<rect x="1693" y="212" width="2" height="1" fill="#000"/>
<rect x="1693" y="245" width="2" height="1" fill="#000"/>
<rect x="1693" y="278" width="2" height="1" fill="#000"/>
<rect x="1693" y="311" width="2" height="1" fill="#000"/>
<rect x="1693" y="344" width="2" height="1" fill="#000"/>
<rect x="1693" y="377" width="2" height="1" fill="#000"/>
<rect x="1693" y="410" width="2" height="1" fill="#000"/>
<rect x="1693" y="443" width="2" height="1" fill="#000"/>
<rect x="1693" y="476" width="2" height="1" fill="#000"/>
<rect x="1693" y="509" width="2" height="1" fill="#000"/>
<rect x="1693" y="542" width="2" height="1" fill="#000"/>
<rect x="1693" y="575" width="2" height="1" fill="#000"/>
<rect x="1693" y="608" width="2" height="1" fill="#000"/>
</g>
<g class="b">
<text x="1698" y="51" font-size="10.2" fill="#000" textLength="28" lengthAdjust="spacingAndGlyphs" >5662.0</text>
<text x="1698" y="84" font-size="10.2" fill="#000" textLength="28" lengthAdjust="spacingAndGlyphs" >5599.0</text>
<text x="1698" y="117" font-size="10.2" fill="#000" textLength="28" lengthAdjust="spacingAndGlyphs" >5536.5</text>
<text x="1698" y="150" font-size="10.2" fill="#000" textLength="28" lengthAdjust="spacingAndGlyphs" >5474.5</text>
<text x="1698" y="183" font-size="10.2" fill="#000" textLength="28" lengthAdjust="spacingAndGlyphs" >5411.5</text>
<text x="1698" y="216" font-size="10.2" fill="#000" textLength="28" lengthAdjust="spacingAndGlyphs" >5348.5</text>
<text x="1698" y="249" font-size="10.2" fill="#000" textLength="28" lengthAdjust="spacingAndGlyphs" >5285.5</text>
<text x="1698" y="282" font-size="10.2" fill="#000" textLength="28" lengthAdjust="spacingAndGlyphs" >5224.0</text>
<text x="1698" y="315" font-size="10.2" fill="#000" textLength="28" lengthAdjust="spacingAndGlyphs" >5161.0</text>
<text x="1698" y="348" font-size="10.2" fill="#000" textLength="28" lengthAdjust="spacingAndGlyphs" >5098.0</text>
<text x="1698" y="381" font-size="10.2" fill="#000" textLength="28" lengthAdjust="spacingAndGlyphs" >5036.5</text>
<text x="1698" y="414" font-size="10.2" fill="#000" textLength="28" lengthAdjust="spacingAndGlyphs" >4973.5</text>
<text x="1698" y="447" font-size="10.2" fill="#000" textLength="28" lengthAdjust="spacingAndGlyphs" >4910.5</text>
<text x="1698" y="480" font-size="10.2" fill="#000" textLength="28" lengthAdjust="spacingAndGlyphs" >4849.0</text>
<text x="1698" y="513" font-size="10.2" fill="#000" textLength="28" lengthAdjust="spacingAndGlyphs" >4786.0</text>
<text x="1698" y="546" font-size="10.2" fill="#000" textLength="28" lengthAdjust="spacingAndGlyphs" >4723.0</text>
<text x="1698" y="579" font-size="10.2" fill="#000" textLength="28" lengthAdjust="spacingAndGlyphs" >4661.5</text>
<text x="1698" y="612" font-size="10.2" fill="#000" textLength="28" lengthAdjust="spacingAndGlyphs" >4598.5</text>
</g>
<g shape-rendering="crispEdges">
<rect x="1694" y="171" width="33" height="11" fill="#4068e0"/>
<rect x="1694" y="240" width="33" height="11" fill="#4068e0"/>
<rect x="1694" y="348" width="33" height="11" fill="#4068e0"/>
<rect x="1694" y="111" width="33" height="9" fill="#000"/>
<rect x="1694" y="100" width="33" height="11" fill="#2ecc2e"/>
<rect x="1693" y="113" width="1" height="1" fill="#000"/>
<rect x="1693" y="615" width="1" height="1" fill="#000"/>
<rect x="1693" y="723" width="1" height="1" fill="#000"/>
<rect x="1693" y="741" width="1" height="1" fill="#000"/>
<rect x="1693" y="746" width="1" height="1" fill="#000"/>
<rect x="1693" y="872" width="1" height="1" fill="#000"/>
<rect x="7" y="874" width="1" height="3" fill="#000"/>
<rect x="71" y="874" width="1" height="3" fill="#000"/>
<rect x="135" y="874" width="1" height="3" fill="#000"/>
<rect x="199" y="874" width="1" height="3" fill="#000"/>
<rect x="263" y="874" width="1" height="3" fill="#000"/>
<rect x="327" y="874" width="1" height="3" fill="#000"/>
<rect x="391" y="874" width="1" height="3" fill="#000"/>
<rect x="455" y="874" width="1" height="3" fill="#000"/>
<rect x="519" y="874" width="1" height="3" fill="#000"/>
<rect x="583" y="874" width="1" height="3" fill="#000"/>
<rect x="647" y="874" width="1" height="3" fill="#000"/>
<rect x="711" y="874" width="1" height="3" fill="#000"/>
<rect x="775" y="874" width="1" height="3" fill="#000"/>
<rect x="839" y="874" width="1" height="3" fill="#000"/>
<rect x="903" y="874" width="1" height="3" fill="#000"/>
<rect x="967" y="874" width="1" height="3" fill="#000"/>
<rect x="1031" y="874" width="1" height="3" fill="#000"/>
<rect x="1095" y="874" width="1" height="3" fill="#000"/>
<rect x="1159" y="874" width="1" height="3" fill="#000"/>
<rect x="1223" y="874" width="1" height="3" fill="#000"/>
<rect x="1287" y="874" width="1" height="3" fill="#000"/>
</g>
<g class="w">
<text x="1698" y="109" font-size="10.2" fill="#fff" textLength="28" lengthAdjust="spacingAndGlyphs" >5550.0</text>
<text x="1698" y="118" font-size="10.2" fill="#fff" textLength="28" lengthAdjust="spacingAndGlyphs" >5535.2</text>
<text x="1698" y="180" font-size="10.2" fill="#fff" textLength="28" lengthAdjust="spacingAndGlyphs" >5415.0</text>
<text x="1698" y="249" font-size="10.2" fill="#fff" textLength="28" lengthAdjust="spacingAndGlyphs" >5285.0</text>
<text x="1698" y="357" font-size="10.2" fill="#fff" textLength="28" lengthAdjust="spacingAndGlyphs" >5080.0</text>
</g>
<g class="b">
<text x="1696" y="624" font-size="10.2" fill="#000" textLength="27" lengthAdjust="spacingAndGlyphs" >134.11</text>
<text x="1696" y="727" font-size="10.2" fill="#000" textLength="18" lengthAdjust="spacingAndGlyphs" >0.00</text>
<text x="1696" y="739" font-size="10.2" fill="#000" textLength="26" lengthAdjust="spacingAndGlyphs" >-22.95</text>
<text x="1696.5" y="755" font-size="10.2" fill="#000" textLength="14.5" lengthAdjust="spacingAndGlyphs" >100</text>
<text x="1695" y="788" font-size="10.2" fill="#000" textLength="10.4" lengthAdjust="spacingAndGlyphs" >70</text>
<text x="1695" y="838" font-size="10.2" fill="#000" textLength="10.4" lengthAdjust="spacingAndGlyphs" >30</text>
<text x="1695.8" y="870" font-size="10.2" fill="#000" textLength="5.4" lengthAdjust="spacingAndGlyphs" >0</text>
<text x="22.4" y="42" font-size="10.2" fill="#000" textLength="64.2" lengthAdjust="spacingAndGlyphs" >CHINA300-,H4</text>
<text x="93.2" y="42" font-size="10.2" fill="#000" textLength="27.3" lengthAdjust="spacingAndGlyphs" >5557.2</text>
<text x="124.5" y="42" font-size="10.2" fill="#000" textLength="27.3" lengthAdjust="spacingAndGlyphs" >5559.0</text>
<text x="155.1" y="42" font-size="10.2" fill="#000" textLength="27.9" lengthAdjust="spacingAndGlyphs" >5531.8</text>
<text x="186.4" y="42" font-size="10.2" fill="#000" textLength="27.3" lengthAdjust="spacingAndGlyphs" >5535.2</text>
<text x="11.6" y="626" font-size="10.2" fill="#000" textLength="64.6" lengthAdjust="spacingAndGlyphs" >MACD(12,26,9)</text>
<text x="80.3" y="626" font-size="10.2" fill="#000" textLength="21.4" lengthAdjust="spacingAndGlyphs" >17.60</text>
<text x="106.2" y="626" font-size="10.2" fill="#000" textLength="17.4" lengthAdjust="spacingAndGlyphs" >4.87</text>
<text x="11.6" y="757" font-size="10.2" fill="#000" textLength="29.5" lengthAdjust="spacingAndGlyphs" >RSI(14)</text>
<text x="46.5" y="757" font-size="10.2" fill="#000" textLength="32.6" lengthAdjust="spacingAndGlyphs" >56.8124</text>
<text x="6.5" y="886" font-size="10.2" fill="#000" textLength="51.1" lengthAdjust="spacingAndGlyphs" >13 Oct 2020</text>
<text x="70.5" y="886" font-size="10.2" fill="#000" textLength="54.1" lengthAdjust="spacingAndGlyphs" >19 Oct 05:00</text>
<text x="134.5" y="886" font-size="10.2" fill="#000" textLength="54.1" lengthAdjust="spacingAndGlyphs" >23 Oct 05:00</text>
<text x="198.5" y="886" font-size="10.2" fill="#000" textLength="54.1" lengthAdjust="spacingAndGlyphs" >29 Oct 05:00</text>
<text x="262.5" y="886" font-size="10.2" fill="#000" textLength="52.1" lengthAdjust="spacingAndGlyphs" >4 Nov 05:00</text>
<text x="326.5" y="886" font-size="10.2" fill="#000" textLength="57.1" lengthAdjust="spacingAndGlyphs" >10 Nov 05:00</text>
<text x="390.5" y="886" font-size="10.2" fill="#000" textLength="57.1" lengthAdjust="spacingAndGlyphs" >16 Nov 05:00</text>
<text x="454.5" y="886" font-size="10.2" fill="#000" textLength="57.1" lengthAdjust="spacingAndGlyphs" >20 Nov 05:00</text>
<text x="518.5" y="886" font-size="10.2" fill="#000" textLength="57.1" lengthAdjust="spacingAndGlyphs" >26 Nov 05:00</text>
<text x="582.5" y="886" font-size="10.2" fill="#000" textLength="50.35" lengthAdjust="spacingAndGlyphs" >2 Dec 05:00</text>
<text x="646.5" y="886" font-size="10.2" fill="#000" textLength="50.35" lengthAdjust="spacingAndGlyphs" >8 Dec 05:00</text>
<text x="710.5" y="886" font-size="10.2" fill="#000" textLength="55.35" lengthAdjust="spacingAndGlyphs" >14 Dec 05:00</text>
<text x="774.5" y="886" font-size="10.2" fill="#000" textLength="55.35" lengthAdjust="spacingAndGlyphs" >18 Dec 05:00</text>
<text x="838.5" y="886" font-size="10.2" fill="#000" textLength="55.35" lengthAdjust="spacingAndGlyphs" >24 Dec 05:00</text>
<text x="902.5" y="886" font-size="10.2" fill="#000" textLength="55.35" lengthAdjust="spacingAndGlyphs" >30 Dec 05:00</text>
<text x="966.5" y="886" font-size="10.2" fill="#000" textLength="48.1" lengthAdjust="spacingAndGlyphs" >6 Jan 05:00</text>
<text x="1030.5" y="886" font-size="10.2" fill="#000" textLength="53.1" lengthAdjust="spacingAndGlyphs" >12 Jan 05:00</text>
<text x="1094.5" y="886" font-size="10.2" fill="#000" textLength="53.1" lengthAdjust="spacingAndGlyphs" >18 Jan 05:00</text>
<text x="1158.5" y="886" font-size="10.2" fill="#000" textLength="53.1" lengthAdjust="spacingAndGlyphs" >22 Jan 05:00</text>
<text x="1222.5" y="886" font-size="10.2" fill="#000" textLength="53.1" lengthAdjust="spacingAndGlyphs" >28 Jan 05:00</text>
<text x="1286.5" y="886" font-size="10.2" fill="#000" textLength="50.0" lengthAdjust="spacingAndGlyphs" >3 Feb 05:00</text>
</g>
<g fill="none" stroke="#ec1c24" stroke-width="2.9" stroke-linecap="butt" stroke-linejoin="miter">
<path d="M1316.5 466.2 Q1310 472.5 1302 477"/>
<path stroke-linejoin="bevel" d="M1312.4 471.3 H1330.6 Q1320 481.5 1300.8 485.6"/>
<path d="M1310.6 475.7 L1314.9 480.2"/>
<path d="M1322.6 480.4 Q1314 487.5 1303 492.6"/>
<path stroke-linejoin="bevel" d="M1319.3 484 H1332.4 Q1322 497 1301.6 500.2"/>
<path d="M1314.5 490.2 L1318.4 494.7"/>
<path d="M1351.3 466.5 L1354 470.4"/>
<path d="M1338.5 477.6 V471.6 H1367.4 V477.6"/>
<path d="M1349.2 475.7 Q1343.5 480.5 1336.6 484.5"/>
<path d="M1356.8 475.7 Q1362.5 480.5 1369.3 484.5"/>
<path d="M1340.7 485.5 H1365.4"/>
<path d="M1352.9 485.5 V497.6"/>
<path d="M1337 497.6 H1369.2"/>
<path d="M1371.9 472.7 H1386.7"/>
<path stroke-linejoin="bevel" d="M1379.4 466.2 L1373.2 484.3 H1386.7"/>
<path d="M1380.6 476.6 V500.8"/>
<path d="M1371.8 493.4 L1387.1 490.6"/>
<path d="M1388.2 472.7 H1405"/>
<path d="M1386.7 480 H1406.5"/>
<path stroke-linejoin="bevel" d="M1395.6 466.2 L1390.9 487.2 H1405.2 L1397.4 496.2"/>
<path d="M1389.4 491.6 L1401.8 500.2"/>
<path d="M1408 474.5 H1419.8"/>
<path d="M1414.1 466.8 V496 Q1414.1 499.3 1408.4 499.1"/>
<path d="M1407.8 486.8 L1419.3 482.8"/>
<path d="M1441 468.6 L1422.9 470.5 V484 Q1422.9 493 1418.3 500.3"/>
<path d="M1423.5 480.6 H1442.4"/>
<path d="M1434.5 480.6 V500.8"/>
<path d="M1460.5 466 V478.2"/>
<path d="M1460.5 471.3 H1477.9"/>
<path d="M1449.6 490.6 V478.2 H1473.2 V490.6"/>
<path d="M1449.6 488.1 H1473.2"/>
<path d="M1449.8 492.4 L1444.6 500.2"/>
<path d="M1455.5 491.9 L1458 499.6"/>
<path d="M1463.9 491.6 L1466.9 499.3"/>
<path d="M1472.1 492.4 L1477.2 500.2"/>
</g>
<text transform="translate(1481.0,497.2) scale(0.8,1)" font-size="40.4" fill="#ec1c24" stroke="#ec1c24" stroke-width="0.2">5</text>
<text transform="translate(1502.2,497.2) scale(0.8,1)" font-size="40.4" fill="#ec1c24" stroke="#ec1c24" stroke-width="0.2">5</text>
<text transform="translate(1523.0,497.2) scale(0.8,1)" font-size="40.4" fill="#ec1c24" stroke="#ec1c24" stroke-width="0.2">5</text>
<text transform="translate(1541.8,497.2) scale(0.94,1)" font-size="40.4" fill="#ec1c24" stroke="#ec1c24" stroke-width="0.2">0</text>
</svg></body></html>
